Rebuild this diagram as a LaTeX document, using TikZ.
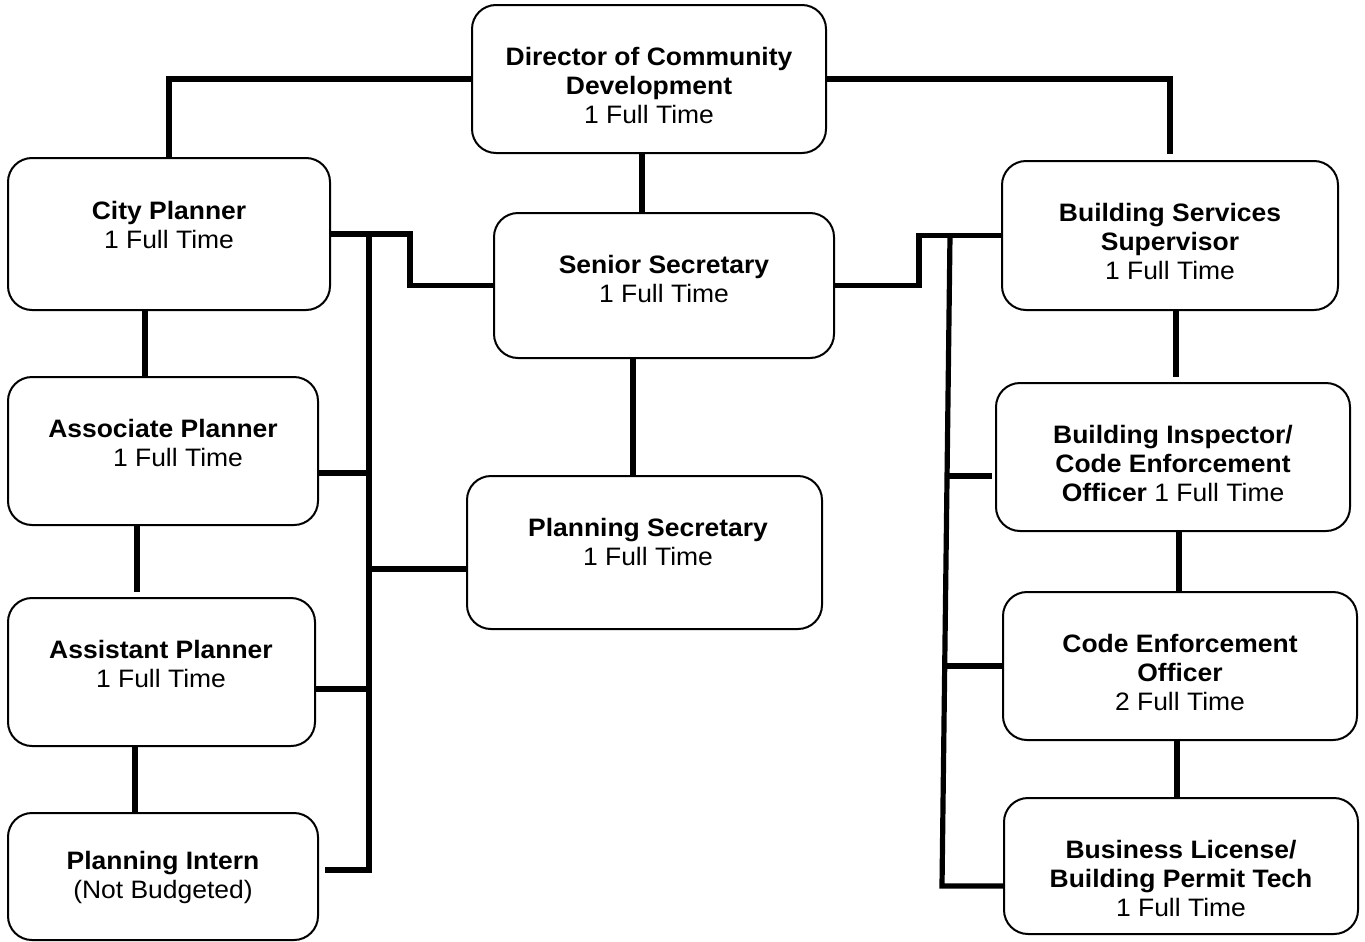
\documentclass[tikz,border=0pt]{standalone}
\usepackage{fontspec}
\setmainfont{Liberation Sans}[FakeStretch=1.05]
\usetikzlibrary{fit}
\begin{document}
\begin{tikzpicture}[x=0.5pt,y=-0.5pt,
  box/.style={draw, line width=1pt, rounded corners=12pt, inner sep=0pt},
  txt/.style={align=center, inner sep=0pt, font=\fontsize{12.6pt}{14.5pt}\selectfont},
  conn/.style={line width=2.6pt}]
\useasboundingbox (0,0) rectangle (1365,942);

% boxes
\node[box, fit={(472,5) (826,153)}] (dir) {};
\node[box, fit={(8,158) (330,310)}] (cp) {};
\node[box, fit={(494,213) (834,358)}] (ss) {};
\node[box, fit={(1002,161) (1338,310)}] (bs) {};
\node[box, fit={(8,377) (318,525)}] (ap) {};
\node[box, fit={(467,476) (822,629)}] (ps) {};
\node[box, fit={(996,383) (1350,531)}] (bi) {};
\node[box, fit={(8,598) (315,746)}] (asp) {};
\node[box, fit={(1003,592) (1357,740)}] (ce) {};
\node[box, fit={(8,813) (318,940)}] (pi) {};
\node[box, fit={(1004,798) (1358,934)}] (bl) {};

% texts
\node[txt] (dirt) at (649,85) {\textbf{Director of Community}\\\textbf{Development}\\1 Full Time};
\node[txt] (cpt) at (169,224.5) {\textbf{City Planner}\\1 Full Time};
\node[txt] (sst) at (664,278.5) {\textbf{Senior Secretary}\\1 Full Time};
\node[txt] (bst) at (1170,241) {\textbf{Building Services}\\\textbf{Supervisor}\\1 Full Time};
\node[txt] (apt) at (163,442.5) {\textbf{Associate Planner}\\\hspace*{15pt}1 Full Time};
\node[txt] (pst) at (648,541.5) {\textbf{Planning Secretary}\\1 Full Time};
\node[txt] (bit) at (1173,463) {\textbf{Building Inspector/}\\\textbf{Code Enforcement}\\\textbf{Officer} 1 Full Time};
\node[txt] (aspt) at (161,663.5) {\textbf{Assistant Planner}\\1 Full Time};
\node[txt] (cet) at (1180,672) {\textbf{Code Enforcement}\\\textbf{Officer}\\2 Full Time};
\node[txt] (pit) at (163,877.5) {\textbf{Planning Intern}\\(Not Budgeted)};
\node[txt] (blt) at (1181,878) {\textbf{Business License/}\\\textbf{Building Permit Tech}\\1 Full Time};

% helper positions for the connector runs
\coordinate (xa) at (145,0);
\coordinate (xb) at (137,0);
\coordinate (xc) at (135,0);
\coordinate (xd) at (642,0);
\coordinate (xe) at (633,0);
\coordinate (xf) at (1176,0);
\coordinate (xg) at (1179,0);
\coordinate (xh) at (1177,0);
\coordinate (lj) at (410,0);
\coordinate (rj) at (919,0);
\coordinate (lbt) at (369,234);
\coordinate (lbb) at (369,870);
\coordinate (l1) at (369,473);
\coordinate (l2) at (369,569);
\coordinate (l3) at (369,689);
\coordinate (rbt) at (950,235.5);
\coordinate (rbb) at (942,886);
\coordinate (r1) at (947,476);
\coordinate (r2) at (945,666);
\coordinate (pie) at (325,870);

% director links
\draw[conn] (dir.west) -| (cp.north);
\draw[conn] (dir.east) -| ([yshift=3pt]bs.north);
\draw[conn] (dir.south -| xd) -- (ss.north -| xd);

% planning chain
\draw[conn] (cp.south -| xa) -- (ap.north -| xa);
\draw[conn] (ap.south -| xb) -- ([yshift=2.5pt]asp.north -| xb);
\draw[conn] (asp.south -| xc) -- (pi.north -| xc);

% left bus
\draw[conn] (cp.east) -| (lj |- ss.west) -- (ss.west);
\draw[conn] (lbt) -- (lbb) -- (pie);
\draw[conn] (ap.east |- l1) -- (l1);
\draw[conn] (l2) -- (ps.west |- l2);
\draw[conn] (asp.east |- l3) -- (l3);

% secretaries
\draw[conn] (ss.south -| xe) -- (ps.north -| xe);

% right bus
\draw[conn] (ss.east) -| (rj |- bs.west) -- (bs.west);
\draw[conn] (rbt) -- (rbb) -- (bl.west |- rbb);
\draw[conn] (r1) -- ([xshift=-1.5pt]bi.west |- r1);
\draw[conn] (r2) -- (ce.west |- r2);

% building chain
\draw[conn] (bs.south -| xf) -- ([yshift=2.5pt]bi.north -| xf);
\draw[conn] (bi.south -| xg) -- (ce.north -| xg);
\draw[conn] (ce.south -| xh) -- (bl.north -| xh);
\end{tikzpicture}
\end{document}
